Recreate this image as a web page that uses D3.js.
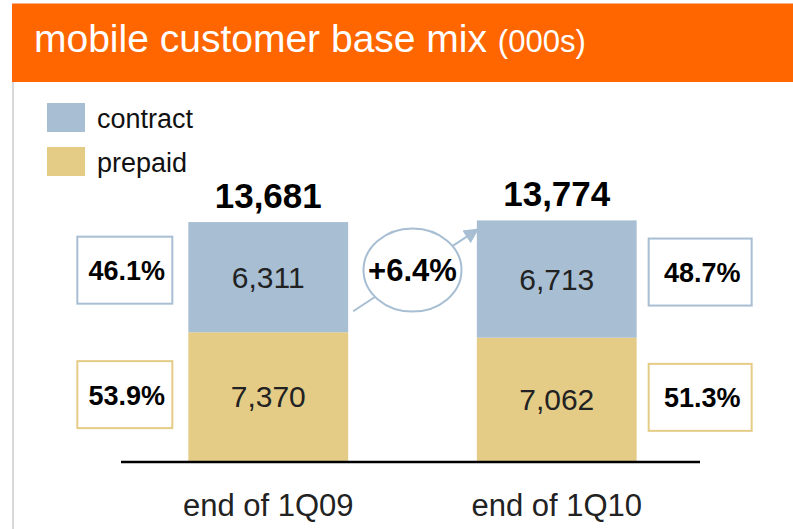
<!DOCTYPE html>
<html>
<head>
<meta charset="utf-8">
<script src="https://cdn.jsdelivr.net/npm/d3@7/dist/d3.min.js"></script>
<style>
  body { margin: 0; background: #fff; }
  svg { display: block; font-family: "Liberation Sans", Arial, Helvetica, sans-serif; }
</style>
</head>
<body>
<div id="chart"></div>
<script>
// values (000s)
var quarters = ["end of 1Q09", "end of 1Q10"];
var contract = [6311, 6713];
var prepaid = [7370, 7062];
var totals = [13681, 13774];
var contractShare = [46.1, 48.7];
var prepaidShare = [53.9, 51.3];
var contractGrowth = 6.4;
var seriesNames = ["contract", "prepaid"];
var seriesColors = ["#a7bed3", "#e4cc87"];

var width = 793;
var height = 529;

var svg = d3.select("#chart")
    .append("svg")
    .attr("width", width)
    .attr("height", height);

var color = d3.scaleOrdinal().domain(seriesNames).range(seriesColors);
var fmt = d3.format(",");

/***** Header *****/
svg.append("rect")
    .attr("x", 12).attr("y", 4)
    .attr("width", width - 12).attr("height", 78)
    .attr("fill", "#ff6600");
svg.append("line")
    .attr("x1", 12).attr("x2", width)
    .attr("y1", 3.5).attr("y2", 3.5)
    .attr("stroke", "#f9b38a");

var title = svg.append("text")
    .attr("x", 34).attr("y", 52)
    .attr("fill", "#fff")
    .style("font-size", "39px")
    .text("mobile customer base mix ");
title.append("tspan")
    .style("font-size", "31px")
    .text("(000s)");

// grey frame edge on the left
svg.append("line")
    .attr("x1", 13).attr("x2", 13)
    .attr("y1", 82).attr("y2", height)
    .attr("stroke", "#d9d9d9")
    .attr("stroke-width", 2);

/***** Legend *****/
var legend = svg.append("g").attr("transform", "translate(47,103)");
var item = legend.selectAll("g")
    .data(seriesNames)
    .join("g")
    .attr("transform", (d, i) => "translate(0," + i * 44 + ")");
item.append("rect")
    .attr("width", 38).attr("height", 29)
    .attr("fill", (d) => color(d));
item.append("text")
    .attr("x", 50).attr("y", 25)
    .style("font-size", "27px")
    .attr("fill", "#111")
    .text((d) => d);

/***** Scales *****/
var x = d3.scaleBand()
    .domain(quarters)
    .range([124, 701])
    .paddingInner(0.446)
    .paddingOuter(0.223);

var y = d3.scaleLinear()
    .domain([0, 14000])
    .range([461, 216.5]);

var rows = quarters.map((q, i) => ({ quarter: q, contract: contract[i], prepaid: prepaid[i] }));
var stack = d3.stack().keys(["prepaid", "contract"]);
var layers = stack(rows);

/***** Growth arrow + bubble (drawn first, sits behind bars) *****/
svg.append("defs").append("marker")
    .attr("id", "head")
    .attr("viewBox", "0 0 10 10")
    .attr("refX", 9).attr("refY", 5)
    .attr("markerUnits", "userSpaceOnUse")
    .attr("markerWidth", 17).attr("markerHeight", 15)
    .attr("orient", "auto")
  .append("path")
    .attr("d", "M0,0 L10,5 L0,10 z")
    .attr("fill", seriesColors[0]);

var bw = x.bandwidth();
svg.append("line")
    .attr("x1", x(quarters[0]) + bw + 5)
    .attr("y1", y(prepaid[0]) - 21)
    .attr("x2", x(quarters[1]) + 1)
    .attr("y2", y(totals[1]) + 9)
    .attr("stroke", seriesColors[0])
    .attr("stroke-width", 2)
    .attr("marker-end", "url(#head)");

var bubbleX = (x(quarters[0]) + bw + x(quarters[1])) / 2;
var bubbleY = y(totals[0]) + 48;
svg.append("ellipse")
    .attr("cx", bubbleX).attr("cy", bubbleY)
    .attr("rx", 49).attr("ry", 41.5)
    .attr("fill", "#fff")
    .attr("stroke", seriesColors[0])
    .attr("stroke-width", 2);
svg.append("text")
    .attr("x", bubbleX).attr("y", bubbleY + 11)
    .attr("text-anchor", "middle")
    .style("font-size", "31px")
    .style("font-weight", "bold")
    .attr("fill", "#000")
    .text("+" + contractGrowth + "%");

/***** Bars *****/
var layerG = svg.append("g").selectAll("g")
    .data(layers)
    .join("g")
    .attr("fill", (d) => color(d.key));

layerG.selectAll("rect")
    .data((d) => d)
    .join("rect")
    .attr("x", (d) => x(d.data.quarter))
    .attr("y", (d) => y(d[1]))
    .attr("width", bw)
    .attr("height", (d) => y(d[0]) - y(d[1]));

layerG.selectAll("text")
    .data((d) => d.map((s) => ({ key: d.key, s: s })))
    .join("text")
    .attr("x", (d) => x(d.s.data.quarter) + bw / 2)
    .attr("y", (d) => (y(d.s[0]) + y(d.s[1])) / 2 + 10.5)
    .attr("text-anchor", "middle")
    .attr("fill", "#222")
    .style("font-size", "30px")
    .text((d) => fmt(d.s.data[d.key]));

// totals above bars
svg.append("g").selectAll("text")
    .data(quarters)
    .join("text")
    .attr("x", (d) => x(d) + bw / 2)
    .attr("y", (d, i) => y(totals[i]) - 14)
    .attr("text-anchor", "middle")
    .style("font-size", "35px")
    .style("font-weight", "bold")
    .attr("fill", "#000")
    .text((d, i) => fmt(totals[i]));

/***** Share boxes *****/
var boxW = [95, 103];
var boxH = 67;
var shares = [];
quarters.forEach((q, i) => {
  var left = i === 0 ? x(q) - 16 - boxW[i] : x(q) + bw + 12;
  shares.push({ key: "contract", v: contractShare[i], left: left, w: boxW[i],
    cy: (y(prepaid[i]) + y(totals[i])) / 2 - 7 });
  shares.push({ key: "prepaid", v: prepaidShare[i], left: left, w: boxW[i],
    cy: (y(0) + y(prepaid[i])) / 2 - 2 });
});

var box = svg.append("g").selectAll("g")
    .data(shares)
    .join("g");
box.append("rect")
    .attr("x", (d) => d.left)
    .attr("y", (d) => d.cy - boxH / 2)
    .attr("width", (d) => d.w)
    .attr("height", boxH)
    .attr("fill", "#fff")
    .attr("stroke", (d) => color(d.key))
    .attr("stroke-width", 2);
box.append("text")
    .attr("x", (d) => d.left + d.w / 2 + 2)
    .attr("y", (d) => d.cy + 10)
    .attr("text-anchor", "middle")
    .style("font-size", "27px")
    .style("font-weight", "bold")
    .attr("fill", "#000")
    .text((d) => d.v.toFixed(1) + "%");

/***** Axis *****/
var xAxisGroup = svg.append("g").attr("transform", "translate(0,462)");
xAxisGroup.append("line")
    .attr("x1", 121).attr("x2", 700)
    .attr("stroke", "#000")
    .attr("stroke-width", 2.5);
xAxisGroup.selectAll("text")
    .data(quarters)
    .join("text")
    .attr("x", (d) => x(d) + bw / 2)
    .attr("y", 54)
    .attr("text-anchor", "middle")
    .attr("fill", "#222")
    .style("font-size", "31px")
    .text((d) => d);
</script>
</body>
</html>
